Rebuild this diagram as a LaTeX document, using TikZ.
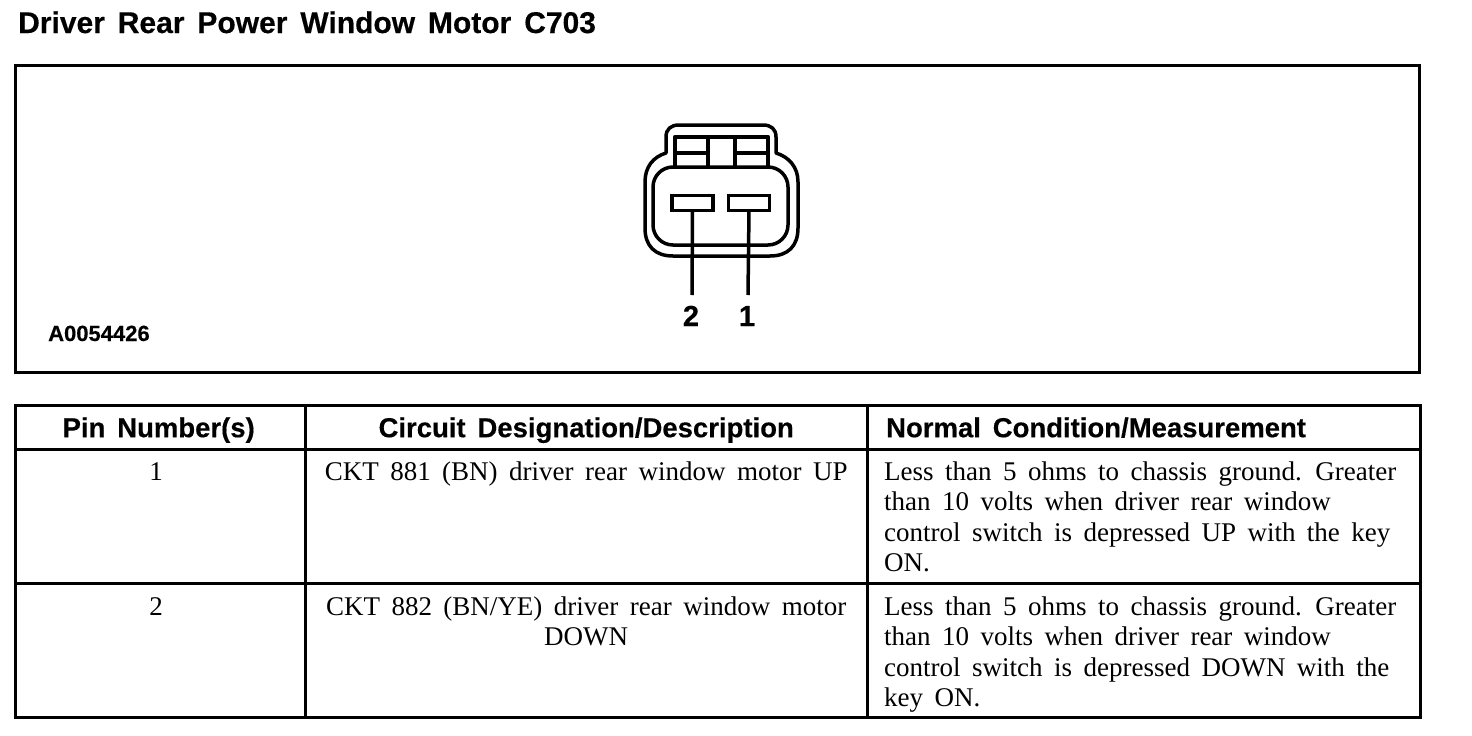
\documentclass[tikz,border=0pt]{standalone}
\usepackage{fontspec}
\usetikzlibrary{matrix,positioning}
\setmainfont{Liberation Serif}[WordSpace=1.7]
\newfontfamily\headfont{Liberation Sans}[WordSpace=1.2,BoldFeatures={FakeBold=0.35}]
\newfontfamily\titlefont{Liberation Sans}[WordSpace=1.55,BoldFeatures={FakeBold=0.35}]
\newcommand{\headcell}[2]{\parbox[c][44pt][t]{#1}{\headfont\bfseries\fontsize{27.5}{30}\selectfont\rule{0pt}{32pt}#2}}
\newcommand{\bodycell}[3][31pt]{\parbox[c][134pt][t]{#2}{\fontsize{27}{30.5}\selectfont\rule{0pt}{#1}#3}}
\begin{document}
\begin{tikzpicture}[
    x=1pt,
    y=-1pt,
    frame/.style={
        draw,
        line width = 3pt,
        inner sep = 0pt,
        outer sep = 0pt
    },
    conn/.style={
        draw,
        line width = 3.5pt,
        line join = round
    },
    pin/.style={
        draw,
        rectangle,
        line width = 3.5pt,
        inner sep = 0pt,
        outer sep = 0pt,
        minimum width = 41pt,
        minimum height = 15pt
    },
    pinlabel/.style={
        draw = none,
        inner sep = 0pt,
        font = \headfont\bfseries\fontsize{29}{30}\selectfont
    },
    grid/.style={
        matrix of nodes,
        anchor = north west,
        inner sep = 0pt,
        nodes={
            frame,
            rectangle,
            anchor = center
        },
        column sep = -3pt,
        row sep = -3pt,
        ampersand replacement=\&
    }
    ]
\useasboundingbox (0,0) rectangle (1472,736);

\node[anchor=base west, inner sep=0pt, font=\titlefont\bfseries\fontsize{30}{32}\selectfont] (title) at (18,33) {Driver Rear Power Window Motor C703};
\node[frame, anchor=north west, minimum width=1404.5pt, minimum height=307.5pt] (panel) at (15,65) {};
\node[anchor=base west, inner sep=0pt, font=\headfont\bfseries\fontsize{22}{24}\selectfont] (partno) at (48,341) {A0054426};

% connector housing
\draw[conn] (666,153) -- (666,137) .. controls (666,129) and (671,125) .. (679,125) -- (763,125) .. controls (771,125) and (776,129) .. (776,137) -- (776,153) .. controls (789,157) and (798,167) .. (798,182) -- (798,228) .. controls (798,246) and (788,256) .. (770,256) -- (673,256) .. controls (655,256) and (645,246) .. (645,228) -- (645,182) .. controls (645,167) and (653,157) .. (666,153) -- cycle;
\draw[conn, rounded corners=20pt] (653,167) rectangle (788,245);
\draw[conn, line width=4.5pt] (675,166) -- (675,137) -- (768,137) -- (768,166);
\draw[conn] (708,137) -- (708,166);
\draw[conn] (735,137) -- (735,166);
\draw[conn] (675,153) -- (708,153);
\draw[conn] (735,153) -- (768,153);

\node[pin] (pinB) at (692.5,203) {};
\node[pin] (pinA) at (749,203) {};
\node[pinlabel, anchor=base] (labelB) at (691,326) {\makebox[0pt]{2}};
\node[pinlabel, anchor=base] (labelA) at (747,326) {\makebox[0pt]{1}};
\coordinate (endB) at (692,295);
\coordinate (endA) at (748,295);
\foreach \ai in {A,B}
    \draw[conn] (pin\ai.south) -- (end\ai);

\matrix[grid] (mat) at (13.5,403.5)
{
    \headcell{290pt}{\centering\hspace{-3pt}Pin Number(s)} \& \headcell{562pt}{\centering Circuit Designation/Description} \& \headcell{553pt}{\hspace{19pt}Normal Condition/Measurement} \\
    \bodycell{290pt}{\centering\hspace{-8pt}1} \& \bodycell{562pt}{\centering CKT 881 (BN) driver rear window motor UP} \& \bodycell{553pt}{\leftskip=17pt Less than 5 ohms to chassis ground. Greater\\than 10 volts when driver rear window\\control switch is depressed UP with the key\\ON.} \\
    \bodycell[32pt]{290pt}{\centering\hspace{-8pt}2} \& \bodycell[32pt]{562pt}{\centering CKT 882 (BN/YE) driver rear window motor\\DOWN} \& \bodycell[32pt]{553pt}{\leftskip=17pt Less than 5 ohms to chassis ground. Greater\\than 10 volts when driver rear window\\control switch is depressed DOWN with the\\key ON.} \\
};
\end{tikzpicture}
\end{document}
